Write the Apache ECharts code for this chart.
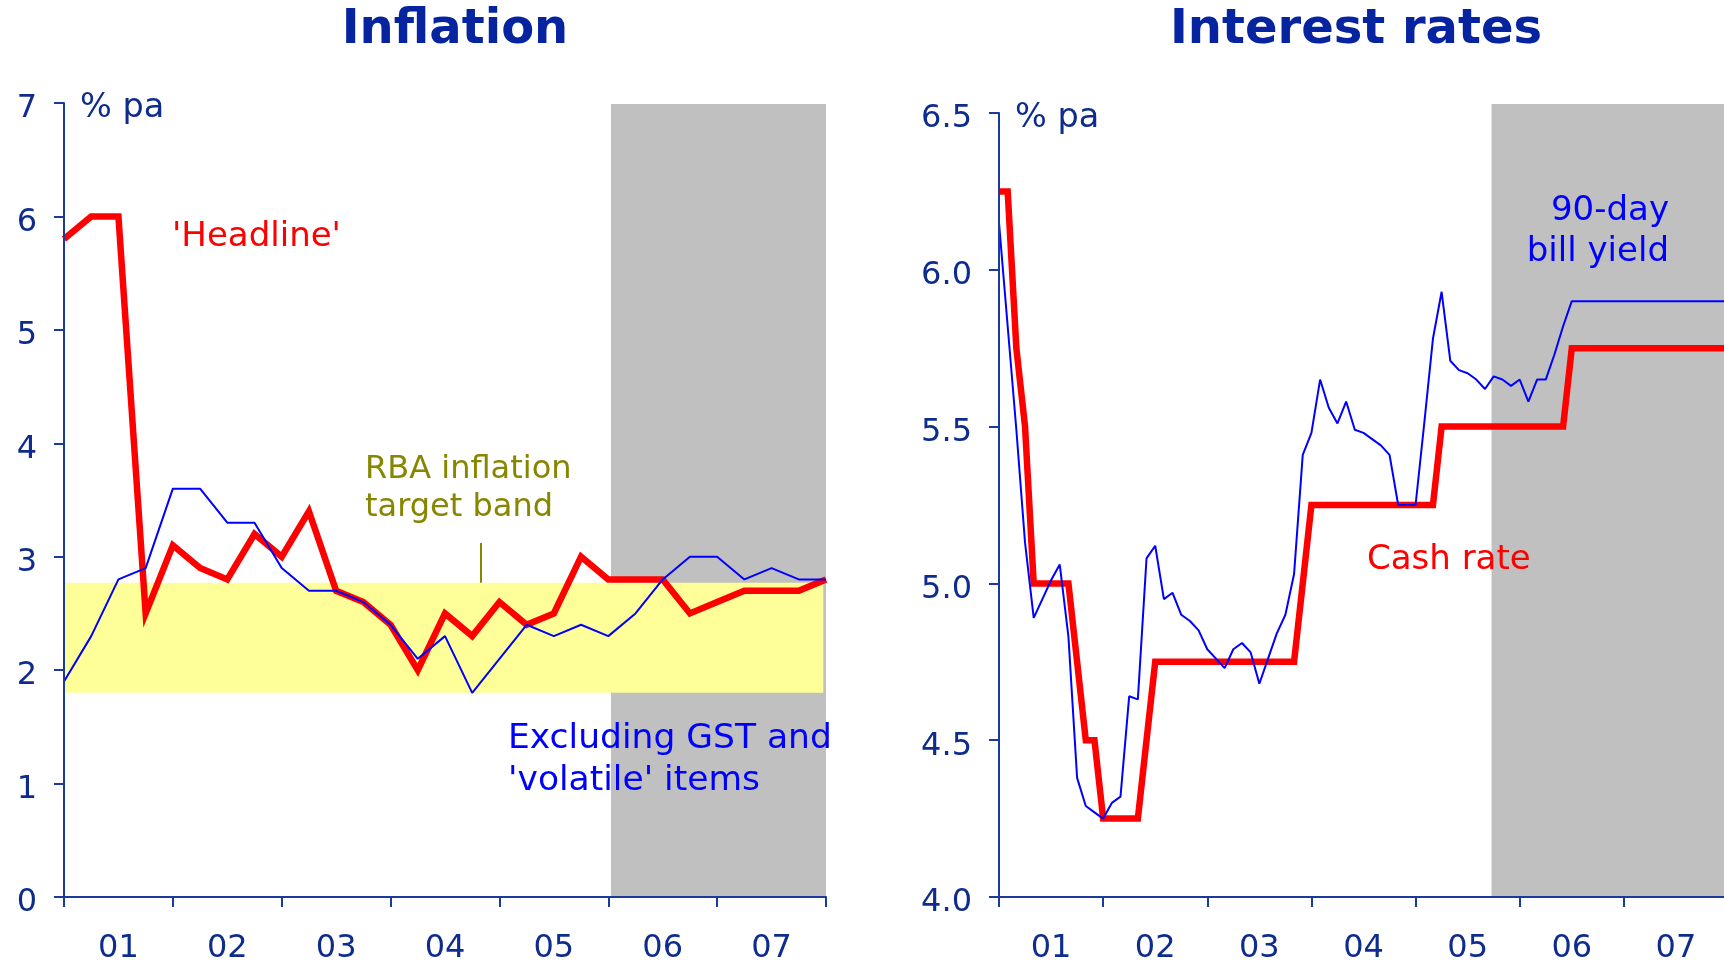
<!DOCTYPE html>
<html><head><meta charset="utf-8">
<script src="https://cdn.jsdelivr.net/npm/echarts@6/dist/echarts.min.js"></script>
<style>html,body{margin:0;padding:0;background:#fff}#c{width:1724px;height:963px}</style>
</head><body><div id="c"></div>
<script>
// ---------- data ----------
const yearLabels = ['01', '02', '03', '04', '05', '06', '07'];
// quarterly, index 0 = Dec 2000 ... 28 = Dec 2007
const headline = [5.8, 6.0, 6.0, 2.5, 3.1, 2.9, 2.8, 3.2, 3.0, 3.4,
                  2.7, 2.6, 2.4, 2.0, 2.5, 2.3, 2.6, 2.4, 2.5, 3.0,
                  2.8, 2.8, 2.8, 2.5, 2.6, 2.7, 2.7, 2.7, 2.8];
const exGstVolatile = [1.9, 2.3, 2.8, 2.9, 3.6, 3.6, 3.3, 3.3, 2.9, 2.7,
                       2.7, 2.6, 2.4, 2.1, 2.3, 1.8, 2.1, 2.4, 2.3, 2.4,
                       2.3, 2.5, 2.8, 3.0, 3.0, 2.8, 2.9, 2.8, 2.8];
const targetBand = [1.8, 2.77];          // % pa
const targetBandQuarters = [0, 27.9];
const targetMarker = [15.3, 2.77, 3.12]; // quarter, from, to
const inflForecast = [20.1, 28];         // shaded quarters
const inflTicks = [0, 7, 1];             // min, max, interval

// monthly, index 0 = Dec 2000 ... 84 = Dec 2007
const cashRate = [6.25, 6.25, 5.75, 5.50, 5.00, 5.00, 5.00, 5.00, 5.00, 4.75,
                  4.50, 4.50, 4.25, 4.25, 4.25, 4.25, 4.25, 4.50, 4.75, 4.75,
                  4.75, 4.75, 4.75, 4.75, 4.75, 4.75, 4.75, 4.75, 4.75, 4.75,
                  4.75, 4.75, 4.75, 4.75, 4.75, 5.00, 5.25, 5.25, 5.25, 5.25,
                  5.25, 5.25, 5.25, 5.25, 5.25, 5.25, 5.25, 5.25, 5.25, 5.25,
                  5.25, 5.50, 5.50, 5.50, 5.50, 5.50, 5.50, 5.50, 5.50, 5.50,
                  5.50, 5.50, 5.50, 5.50, 5.50, 5.50, 5.75, 5.75, 5.75, 5.75,
                  5.75, 5.75, 5.75, 5.75, 5.75, 5.75, 5.75, 5.75, 5.75, 5.75,
                  5.75, 5.75, 5.75, 5.75, 5.75];
const billYield = [6.15, 5.82, 5.49, 5.13, 4.89, 4.95, 5.01, 5.06, 4.83, 4.38,
                   4.29, 4.27, 4.25, 4.30, 4.32, 4.64, 4.63, 5.08, 5.12, 4.95,
                   4.97, 4.90, 4.88, 4.85, 4.79, 4.76, 4.73, 4.79, 4.81, 4.78,
                   4.68, 4.76, 4.84, 4.90, 5.03, 5.41, 5.48, 5.65, 5.56, 5.51,
                   5.58, 5.49, 5.48, 5.46, 5.44, 5.41, 5.25, 5.25, 5.25, 5.51,
                   5.78, 5.93, 5.71, 5.68, 5.67, 5.65, 5.62, 5.66, 5.65, 5.63,
                   5.65, 5.58, 5.65, 5.65, 5.73, 5.82, 5.90, 5.90, 5.90, 5.90,
                   5.90, 5.90, 5.90, 5.90, 5.90, 5.90, 5.90, 5.90, 5.90, 5.90,
                   5.90, 5.90, 5.90, 5.90, 5.90];
const rateForecast = [56.75, 84];        // shaded months
const rateTicks = [4.0, 6.5, 0.5];

// ---------- styles ----------
const AX = '#1a3a9e', LBL = '#0e2c8e', TTL = '#0623a0';
const RED = '#ff0000', BLUE = '#0000ff', GREY = '#c0c0c0', YEL = '#ffff99', OLIVE = '#868600';
const FF = '"DejaVu Sans", Verdana, sans-serif';

const chart = echarts.init(document.getElementById('c'), null, {renderer: 'canvas', width: 1724, height: 963});

const gridBase = {containLabel: false, outerBoundsMode: 'none'};
function valX(gi, max, interval) {
  return {type: 'value', gridIndex: gi, position: 'bottom', min: 0, max: max, interval: interval, z: 10,
    axisLine: {show: true, onZero: false, lineStyle: {color: AX, width: 2}},
    axisTick: {show: true, inside: false, length: 10, lineStyle: {color: AX, width: 2}},
    axisLabel: {show: false}, splitLine: {show: false}};
}
function catX(gi) {
  return {type: 'category', gridIndex: gi, position: 'bottom', data: yearLabels, boundaryGap: true, z: 10,
    axisLine: {show: false}, axisTick: {show: false}, splitLine: {show: false},
    axisLabel: {show: true, interval: 0, color: LBL, fontSize: 32, fontFamily: FF, margin: 36}};
}
function valY(gi, t, fmt) {
  return {type: 'value', gridIndex: gi, min: t[0], max: t[1], interval: t[2], z: 10,
    axisLine: {show: true, lineStyle: {color: AX, width: 2}},
    axisTick: {show: true, inside: false, length: 10, lineStyle: {color: AX, width: 2}},
    splitLine: {show: false},
    axisLabel: {show: true, color: LBL, fontSize: 32, fontFamily: FF, margin: 27,
      verticalAlign: 'top', lineHeight: 12, formatter: fmt}};
}
function hidden(gi, max) { return {type: 'value', gridIndex: gi, min: 0, max: max, show: false}; }

function txt(text, x, y, size, color, align, bold) {
  return {type: 'text', silent: true, z: 100,
    style: {text: text, x: x, y: y, fill: color, font: (bold ? 'bold ' : '') + size + 'px ' + FF,
      align: align || 'left', verticalAlign: 'middle', textAlign: align || 'left', textVerticalAlign: 'middle'}};
}

const option = {
  animation: false,
  backgroundColor: '#ffffff',
  grid: [
    Object.assign({left: 64, top: 103, width: 762, height: 794}, gridBase),
    Object.assign({left: 999, top: 113, width: 729, height: 784}, gridBase),
    Object.assign({left: 64, top: 104, width: 762, height: 793}, gridBase),
    Object.assign({left: 999, top: 104, width: 729, height: 793}, gridBase)
  ],
  xAxis: [valX(0, 28, 4), catX(0), valX(1, 84, 12), catX(1), hidden(2, 28), hidden(3, 84)],
  yAxis: [
    valY(0, inflTicks, v => String(v)),
    valY(1, rateTicks, v => v.toFixed(1)),
    hidden(2, 1), hidden(3, 1)
  ],
  series: [
    {type: 'line', name: 'shadeL', xAxisIndex: 4, yAxisIndex: 2, data: [], silent: true, symbol: 'none',
      markArea: {silent: true, z: 1, itemStyle: {color: GREY, opacity: 1, borderWidth: 0},
        data: [[{xAxis: inflForecast[0], yAxis: 0}, {xAxis: inflForecast[1], yAxis: 1}]]}},
    {type: 'line', name: 'shadeR', xAxisIndex: 5, yAxisIndex: 3, data: [], silent: true, symbol: 'none',
      markArea: {silent: true, z: 1, itemStyle: {color: GREY, opacity: 1, borderWidth: 0},
        data: [[{xAxis: rateForecast[0], yAxis: 0}, {xAxis: rateForecast[1], yAxis: 1}]]}},
    {type: 'line', name: 'band', xAxisIndex: 0, yAxisIndex: 0, data: [], silent: true, symbol: 'none',
      markArea: {silent: true, z: 2, itemStyle: {color: YEL, opacity: 1, borderWidth: 0},
        data: [[{xAxis: targetBandQuarters[0], yAxis: targetBand[0]}, {xAxis: targetBandQuarters[1], yAxis: targetBand[1]}]]},
      markLine: {silent: true, symbol: ['none', 'none'], label: {show: false},
        lineStyle: {color: OLIVE, width: 2, type: 'solid'},
        data: [[{coord: [targetMarker[0], targetMarker[1]]}, {coord: [targetMarker[0], targetMarker[2]]}]]}},
    {type: 'line', name: "'Headline'", xAxisIndex: 0, yAxisIndex: 0, z: 3, symbol: 'none', showSymbol: false,
      lineStyle: {color: RED, width: 6.5, join: 'miter', cap: 'butt'},
      data: headline.map((v, i) => [i, v])},
    {type: 'line', name: 'Excluding GST', xAxisIndex: 0, yAxisIndex: 0, z: 4, symbol: 'none', showSymbol: false,
      lineStyle: {color: BLUE, width: 2},
      data: exGstVolatile.map((v, i) => [i, v])},
    {type: 'line', name: 'Cash rate', xAxisIndex: 2, yAxisIndex: 1, z: 3, symbol: 'none', showSymbol: false,
      lineStyle: {color: RED, width: 6.5, join: 'miter', cap: 'butt'},
      data: cashRate.map((v, i) => [i, v])},
    {type: 'line', name: '90-day bill yield', xAxisIndex: 2, yAxisIndex: 1, z: 4, symbol: 'none', showSymbol: false,
      lineStyle: {color: BLUE, width: 2},
      data: billYield.map((v, i) => [i, v])}
  ],
  graphic: [
    txt('Inflation', 455, 31, 48, TTL, 'center', true),
    txt('Interest rates', 1356, 31, 48, TTL, 'center', true),
    txt('% pa', 80, 108.5, 33.5, LBL, 'left'),
    txt('% pa', 1015, 118.5, 33.5, LBL, 'left'),
    txt("'Headline'", 172, 237, 34, RED, 'left'),
    txt('RBA inflation', 365, 469.5, 32, OLIVE, 'left'),
    txt('target band', 365, 507.5, 32, OLIVE, 'left'),
    txt('Excluding GST and', 508, 739, 34.5, BLUE, 'left'),
    txt("'volatile' items", 508, 781, 34.5, BLUE, 'left'),
    txt('90-day', 1669, 211.5, 34, BLUE, 'right'),
    txt('bill yield', 1669, 252.5, 34, BLUE, 'right'),
    txt('Cash rate', 1367, 560, 34, RED, 'left')
  ]
};
chart.setOption(option);
</script>
</body></html>
